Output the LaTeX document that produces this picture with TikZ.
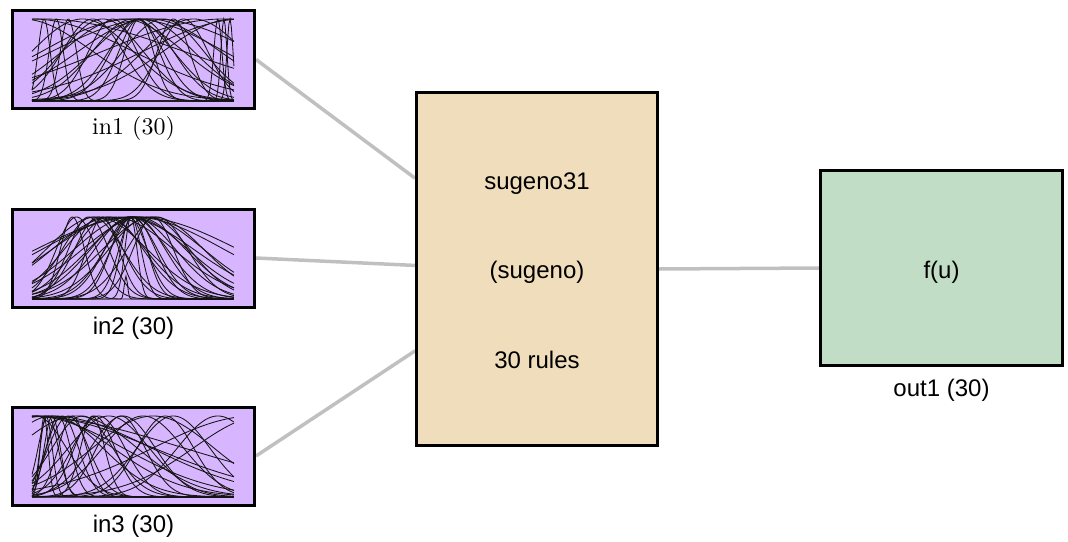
\documentclass[tikz,border=0pt]{standalone}
\usepackage{fontspec}
\newfontfamily\arialf{Liberation Sans}
\newfontfamily\lmten{lmroman10-regular.otf}
\usetikzlibrary{calc,backgrounds}
\definecolor{inpurple}{RGB}{216,182,255}
\definecolor{midtan}{RGB}{240,221,187}
\definecolor{outgreen}{RGB}{193,221,197}
\definecolor{edgegray}{RGB}{192,192,192}
\begin{document}
\begin{tikzpicture}[x=1pt,y=-1pt,
  fbox/.style={draw=black,line width=3pt,inner sep=0pt},
  inbox/.style={fbox,fill=inpurple,minimum width=242pt,minimum height=98pt},
  sanslbl/.style={font=\arialf\fontsize{24}{28}\selectfont,inner sep=0pt},
  seriflbl/.style={font=\lmten\fontsize{24}{28}\selectfont,inner sep=0pt},
  link/.style={draw=edgegray,line width=3.5pt},
  mf/.style={line width=0.85pt,draw=black!92}]
\useasboundingbox (0,0) rectangle (1068,541);

% boxes
\node[inbox] (in1) at (133.5,59.5) {};
\node[inbox] (in2) at (133.5,258) {};
\node[inbox] (in3) at (133.5,456) {};
\node[fbox,fill=midtan,minimum width=241pt,minimum height=353pt] (mid) at (537,269) {};
\node[fbox,fill=outgreen,minimum width=242pt,minimum height=195pt] (out) at (941.5,268) {};

% connection points on the rule block
\coordinate (m1) at ($(mid.north west)!0.245!(mid.south west)$);
\coordinate (m2) at ($(mid.north west)!0.49!(mid.south west)$);
\coordinate (m3) at ($(mid.north west)!0.73!(mid.south west)$);

\begin{scope}[on background layer]
  \draw[link] (in1.east) -- (m1);
  \draw[link] (in2.east) -- (m2);
  \draw[link] (in3.east) -- (m3);
  \draw[link] (mid.east) -- (out.west);
\end{scope}

% membership functions in1
\begin{scope}[shift={(32,101)},xscale=202,yscale=-82]
\foreach \c/\s in {0.06/0.03,0.12/0.035,0.18/0.04,0.53/0.07,0.53/0.1,0.52/0.13,0.54/0.16,0.5/0.2,0.55/0.25,0.45/0.3,0.58/0.35,0.5/0.45,0.7/0.08,0.75/0.12,0.92/0.02,0.95/0.015,0.98/0.015,0.0/0.5,-0.05/0.35,0.05/0.7,1.0/0.35,1.05/0.5,0.95/0.6,0.3/0.15,0.35/0.2,0.25/0.25,0.65/0.2,0.8/0.25,0.4/0.12,0.6/0.5}
  \draw[mf] plot[domain=0:1,samples=160] (\x,{exp(-min(((\x-(\c))/\s)^2/2,9))});
\end{scope}

% membership functions in2
\begin{scope}[shift={(32,299)},xscale=202,yscale=-82]
\foreach \c/\s/\a in {0.49/0.03/1,0.49/0.05/1,0.5/0.07/1,0.48/0.09/1,0.5/0.11/1,0.49/0.13/1,0.51/0.15/1,0.49/0.18/1,0.5/0.21/1,0.52/0.24/1,0.49/0.28/1,0.5/0.45/1,0.52/0.5/1,0.35/0.08/1,0.33/0.12/1,0.3/0.15/1,0.28/0.1/1,0.36/0.2/1,0.32/0.25/1,0.4/0.3/1,0.2/0.06/1,0.22/0.1/1,0.6/0.1/1,0.62/0.15/1,0.58/0.2/1,0.55/0.3/1,0.45/0.35/1,0.465/0.008/0.28,0.38/0.17/1,0.6/0.25/1}
  \draw[mf] plot[domain=0:1,samples=160] (\x,{\a*exp(-min(((\x-(\c))/\s)^2/2,9))});
\end{scope}

% membership functions in3
\begin{scope}[shift={(32,497)},xscale=202,yscale=-81]
\foreach \c/\s in {0.06/0.02,0.07/0.03,0.08/0.05,0.1/0.04,0.13/0.06,0.15/0.08,0.18/0.1,0.2/0.07,0.3/0.06,0.31/0.1,0.33/0.13,0.25/0.15,0.44/0.12,0.45/0.16,0.66/0.14,0.7/0.18,0.92/0.2,0.0/0.45,0.0/0.6,-0.05/0.8,0.05/0.35,1.15/0.35,1.1/0.5,0.1/0.25,0.38/0.2,0.55/0.2,0.02/0.15,0.22/0.3,0.6/0.3,0.09/0.5}
  \draw[mf] plot[domain=0:1,samples=160] (\x,{exp(-min(((\x-(\c))/\s)^2/2,9))});
\end{scope}

% labels
\node[seriflbl] (l1) at (133.5,128) {in1 (30)};
\node[sanslbl] (l2) at (133.5,328) {in2 (30)};
\node[sanslbl] (l3) at (133.5,526) {in3 (30)};
\node[sanslbl] (r1) at (537,184) {sugeno31};
\node[sanslbl] (r2) at (537,272) {(sugeno)};
\node[sanslbl] (r3) at (537,360) {30 rules};
\node[sanslbl] (f) at (941.5,272) {f(u)};
\node[sanslbl] (lo) at (941.5,390) {out1 (30)};
\end{tikzpicture}
\end{document}
